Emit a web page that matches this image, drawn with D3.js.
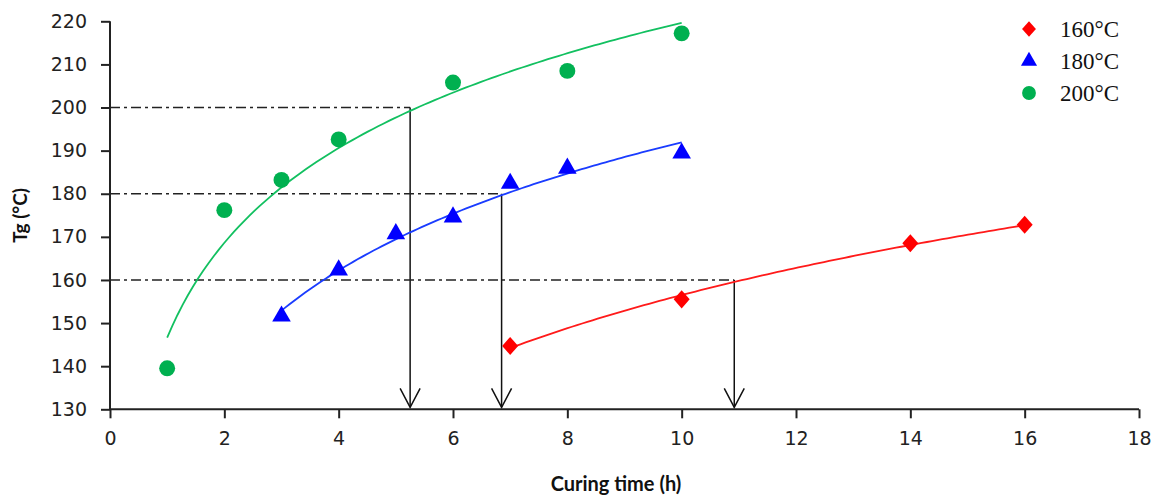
<!DOCTYPE html>
<html><head><meta charset="utf-8">
<script src="https://cdn.jsdelivr.net/npm/d3@7"></script>
<style>body{margin:0;background:#fff;} svg{display:block;}</style>
</head><body>
<svg id="c" width="1156" height="497"></svg>
<script>
// ---- data ----
const seriesNames = ["160°C", "180°C", "200°C"];
const x160 = [7, 10, 14, 16];
const y160 = [144.7, 155.5, 168.5, 172.8];
const x180 = [3, 4, 5, 6, 7, 8, 10];
const y180 = [151.6, 162.3, 170.7, 174.6, 182.4, 185.9, 189.4];
const x200 = [1, 2, 3, 4, 6, 8, 10];
const y200 = [139.5, 176.2, 183.2, 192.6, 205.8, 208.5, 217.2];
const xTicks = [0, 2, 4, 6, 8, 10, 12, 14, 16, 18];
const yTicks = [130, 140, 150, 160, 170, 180, 190, 200, 210, 220];
const guideLevels = [200, 180, 160];
const guideTimes = [5.25, 6.85, 10.92];

const colors = {"160°C": "#ff0000", "180°C": "#0000ff", "200°C": "#00b050"};
const lineColors = {"160°C": "#ff1a1a", "180°C": "#1a3cff", "200°C": "#12c060"};

const series = [
  {name: "160°C", xs: x160, ys: y160, shape: "diamond"},
  {name: "180°C", xs: x180, ys: y180, shape: "triangle"},
  {name: "200°C", xs: x200, ys: y200, shape: "circle"}
];

const svg = d3.select("#c");
const x = d3.scaleLinear().domain([0, 18]).range([110, 1139]);
const y = d3.scaleLinear().domain([130, 220]).range([409.3, 21.3]);

// logarithmic trendline (least squares on ln x), as a spreadsheet trendline does
function logFit(xs, ys) {
  const lx = xs.map(Math.log);
  const mx = d3.mean(lx), my = d3.mean(ys);
  let sxy = 0, sxx = 0;
  lx.forEach((v, i) => { sxy += (v - mx) * (ys[i] - my); sxx += (v - mx) * (v - mx); });
  const b = sxy / sxx, a = my - b * mx;
  return t => a + b * Math.log(t);
}

// guides (dash-dot) and arrows
guideLevels.forEach((lv, i) => {
  const gx = x(guideTimes[i]);
  svg.append("line").attr("x1", x(0)).attr("x2", gx).attr("y1", y(lv)).attr("y2", y(lv))
    .attr("stroke", "#222").attr("stroke-width", 1.5).attr("stroke-dasharray", "10,4,3,4");
  svg.append("line").attr("x1", gx).attr("x2", gx).attr("y1", y(lv)).attr("y2", y(130) - 2)
    .attr("stroke", "#111").attr("stroke-width", 1.5);
  svg.append("path").attr("d", `M${gx - 10},${y(130) - 21} L${gx},${y(130) - 2} L${gx + 10},${y(130) - 21}`)
    .attr("fill", "none").attr("stroke", "#111").attr("stroke-width", 1.5);
});

// axes
const yAxis = svg.append("g").attr("transform", `translate(${x(0)},0)`)
  .call(d3.axisLeft(y).tickValues(yTicks).tickSize(9).tickPadding(14).tickFormat(d3.format("d")));
const xAxis = svg.append("g").attr("transform", `translate(0,${y(130)})`)
  .call(d3.axisBottom(x).tickValues(xTicks).tickSize(9).tickPadding(13).tickFormat(d3.format("d")));
[yAxis, xAxis].forEach(g => {
  g.select(".domain").attr("stroke", "#222").attr("stroke-width", 2);
  g.selectAll(".tick line").attr("stroke", "#222").attr("stroke-width", 2);
  g.selectAll("text").attr("font-family", "DejaVu Sans, Verdana, sans-serif").attr("font-size", 19).attr("fill", "#222");
});
xAxis.select(".domain").attr("d", `M${x(0)},0H${x(18)}`);
yAxis.select(".domain").attr("d", `M0,${y(130)}V${y(220)}`);

// trend lines
series.forEach(s => {
  const f = logFit(s.xs, s.ys);
  const lo = d3.min(s.xs), hi = d3.max(s.xs);
  const pts = d3.range(0, 101).map(k => lo + (hi - lo) * k / 100);
  svg.append("path").datum(pts)
    .attr("d", d3.line().x(t => x(t)).y(t => y(f(t))))
    .attr("fill", "none").attr("stroke", lineColors[s.name]).attr("stroke-width", 1.8);
});

// markers
const wideDiamond = {
  draw(ctx, size) {
    const h = Math.sqrt(size) / 2 * 1.06, w = Math.sqrt(size) / 2 * 0.94;
    ctx.moveTo(0, -h); ctx.lineTo(w, 0); ctx.lineTo(0, h); ctx.lineTo(-w, 0); ctx.closePath();
  }
};
function marker(sel, shape, color, size) {
  const sym = shape === "circle" ? d3.symbolCircle : shape === "triangle" ? d3.symbolTriangle : wideDiamond;
  sel.attr("d", d3.symbol().type(sym).size(size)).attr("fill", color);
}
const sizes = {circle: 200, triangle: 150, diamond: 290};
series.forEach(s => {
  svg.append("g").selectAll("path").data(s.xs.map((v, i) => [v, s.ys[i]])).join("path")
    .attr("transform", d => `translate(${x(d[0])},${y(d[1])})`)
    .call(sel => marker(sel, s.shape, colors[s.name], sizes[s.shape]));
});

// legend
const leg = svg.append("g");
series.forEach((s, i) => {
  const ly = 29 + i * 32;
  leg.append("path").attr("transform", `translate(1029,${ly})`)
    .call(sel => marker(sel, s.shape, colors[s.name], sizes[s.shape] * 0.75));
  leg.append("text").attr("x", 1060).attr("y", ly + 8).text(s.name)
    .attr("font-family", "Liberation Serif, Times New Roman, serif").attr("font-size", 23).attr("fill", "#111");
});

// axis titles
svg.append("text").attr("transform", `translate(27,${y(175)}) rotate(-90)`).attr("text-anchor", "middle")
  .attr("font-family", "Lato, Carlito, sans-serif").attr("font-weight", "bold").attr("font-size", 19)
  .attr("fill", "#111").text("Tg (°C)");
svg.append("text").attr("x", 616).attr("y", 491).attr("text-anchor", "middle")
  .attr("font-family", "Lato, Carlito, sans-serif").attr("font-weight", "bold").attr("font-size", 20)
  .attr("fill", "#111").text("Curing time (h)");
</script>
</body></html>
